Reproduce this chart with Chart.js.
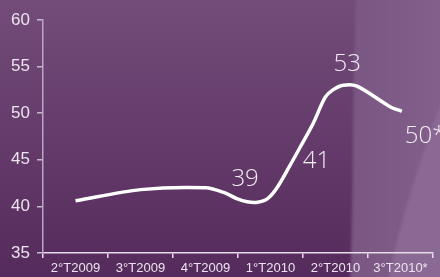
<!DOCTYPE html>
<html>
<head>
<meta charset="utf-8">
<script src="https://cdn.jsdelivr.net/npm/chart.js@4/dist/chart.umd.min.js"></script>
<style>
  html, body { margin: 0; padding: 0; background: #5e3466; }
  #wrap { width: 440px; height: 277px; position: relative; }
</style>
</head>
<body>
<div id="wrap"><canvas id="lineChart" width="440" height="277"></canvas></div>
<script>
// quarter labels on the x axis
const quarters = ["2°T2009", "3°T2009", "4°T2009", "1°T2010", "2°T2010", "3°T2010*"];

// y axis range
const yMin = 35;
const yMax = 60;
const yStep = 5;

// traced curve: x in quarter units (0..6), y values
const curveX = [0.5, 1.5, 2.5, 2.78, 2.99, 3.14, 3.3, 3.45, 3.6, 3.8, 3.96, 4.16, 4.34, 4.46, 4.62, 4.83, 5.34, 5.52];
const curveY = [40.6, 41.8, 42.0, 41.5, 40.8, 40.5, 40.45, 40.8, 42.0, 44.4, 46.4, 48.95, 51.7, 52.5, 53.0, 52.9, 50.7, 50.2];

// value callouts and the curve point each one belongs to
const calloutText = ["39", "41", "53", "50*"];
const calloutPoint = [5, 11, 14, 17];

// background with the lighter curved bands on the right
const backdrop = {
  id: "backdrop",
  beforeDraw(chart) {
    const { ctx, width, height } = chart;
    ctx.save();
    const g = ctx.createLinearGradient(0, 0, 0, height);
    g.addColorStop(0, "#734c79");
    g.addColorStop(1, "#552a5c");
    ctx.fillStyle = g;
    ctx.fillRect(0, 0, width, height);

    ctx.filter = "blur(1.5px)";
    // first band
    const g1 = ctx.createLinearGradient(350, 0, 440, 0);
    g1.addColorStop(0, "#7a5683");
    g1.addColorStop(1, "#82608b");
    ctx.fillStyle = g1;
    ctx.beginPath();
    ctx.moveTo(356, -5);
    ctx.bezierCurveTo(352, 90, 354, 200, 350, 282);
    ctx.lineTo(450, 282);
    ctx.lineTo(450, -5);
    ctx.closePath();
    ctx.fill();

    // second band
    ctx.fillStyle = "#8b6995";
    ctx.beginPath();
    ctx.moveTo(445, 92);
    ctx.bezierCurveTo(420, 160, 400, 220, 388, 282);
    ctx.lineTo(450, 282);
    ctx.closePath();
    ctx.fill();
    ctx.restore();
  }
};

// draws the callout numbers next to their points
const callouts = {
  id: "callouts",
  afterDatasetsDraw(chart) {
    const { ctx } = chart;
    const pts = chart.getDatasetMeta(0).data;
    const offsets = [[-2, -23, "center"], [3, 38, "center"], [4, -21, "center"], [3, 25, "left"]];
    ctx.save();
    ctx.fillStyle = "#f2ecf3";
    ctx.font = "300 24px 'Open Sans', 'Liberation Sans', sans-serif";
    ctx.textBaseline = "middle";
    calloutText.forEach((t, i) => {
      const p = pts[calloutPoint[i]];
      const o = offsets[i];
      ctx.textAlign = o[2];
      ctx.fillText(t, p.x + o[0], p.y + o[1]);
    });
    ctx.restore();
  }
};

const ctx = document.getElementById("lineChart");
new Chart(ctx, {
  type: "line",
  data: {
    labels: quarters,
    datasets: [
      {
        data: curveX.map((x, i) => ({ x, y: curveY[i] })),
        xAxisID: "xl",
        borderColor: "#ffffff",
        borderWidth: 3.5,
        pointRadius: 0,
        tension: 0.3,
        fill: false,
      },
    ],
  },
  options: {
    responsive: false,
    animation: false,
    layout: { padding: { top: 20, right: 7, left: 0, bottom: 0 } },
    plugins: { legend: { display: false }, tooltip: { enabled: false } },
    scales: {
      x: {
        type: "category",
        offset: true,
        grid: { offset: true, drawOnChartArea: false, color: "#e6dcea", tickLength: 5, lineWidth: 1.5 },
        border: { color: "#e6dcea", width: 1.5 },
        ticks: { color: "#ece4ee", font: { family: "'Liberation Sans', Arial", size: 13 }, padding: 3, maxRotation: 0 },
        afterFit: (s) => { s.height = 24; },
      },
      xl: {
        type: "linear",
        display: false,
        min: 0,
        max: 6,
      },
      y: {
        min: yMin,
        max: yMax,
        grid: { drawOnChartArea: false, color: "#c9b9cf", tickLength: 6, lineWidth: 1.5 },
        border: { color: "#b9a6c0", width: 1.5 },
        ticks: { stepSize: yStep, color: "#ece4ee", font: { family: "'Liberation Sans', Arial", size: 17 }, padding: 7 },
        afterFit: (s) => { s.width = 43; },
      },
    },
  },
  plugins: [backdrop, callouts],
});
</script>
</body>
</html>
